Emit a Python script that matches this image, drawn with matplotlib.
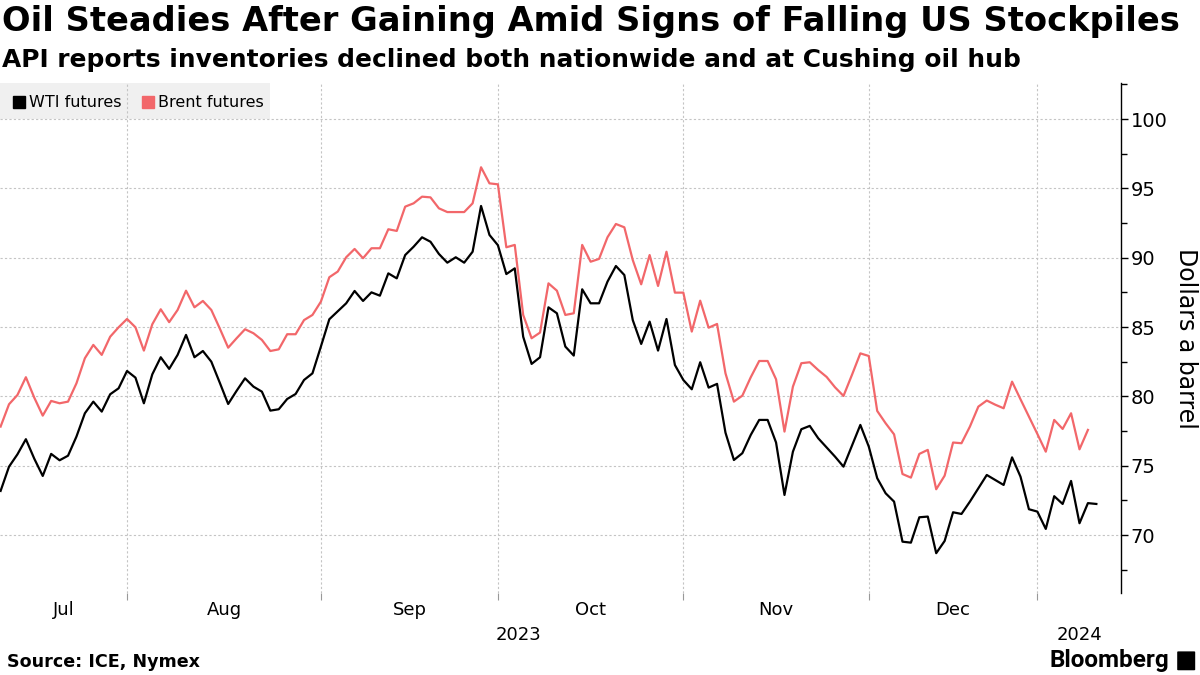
import numpy as np
import pandas as pd
import matplotlib
matplotlib.use("Agg")
import matplotlib.pyplot as plt
from matplotlib.lines import Line2D
from matplotlib.patches import Rectangle, FancyBboxPatch
import matplotlib.transforms as mtransforms

# trading days (union of ICE and Nymex sessions)
dates = pd.bdate_range("2023-07-10", "2024-01-10")
dates = dates[~dates.isin(pd.to_datetime(["2023-12-25", "2024-01-01"]))]

nan = np.nan
wti = [73.18, 74.93, 75.82, 76.91, 75.5, 74.26, 75.85, 75.39, 75.72, 77.1,
       78.78, 79.62, 78.9, 80.15, 80.58, 81.83, 81.35, 79.5, 81.59, 82.82,
       81.98, 82.99, 84.43, 82.82, 83.27, 82.5, 80.99, 79.45, 80.4, 81.3,
       80.7, 80.34, 78.97, 79.07, 79.81, 80.17, 81.18, 81.66, 83.59, 85.56,
       nan, 86.71, 87.6, 86.88, 87.5, 87.26, 88.87, 88.51, 90.19, 90.79,
       91.47, 91.15, 90.27, 89.64, 90.03, 89.64, 90.43, 93.73, 91.64, 90.9,
       88.82, 89.23, 84.3, 82.34, 82.82, 86.42, 85.99, 83.59, 82.94, 87.72,
       86.71, 86.71, 88.27, 89.4, 88.75, 85.5, 83.78, 85.39, 83.3, 85.58,
       82.26, 81.18, 80.51, 82.46, 80.63, 80.9, 77.38, 75.41, 75.9, 77.22,
       78.3, 78.3, 76.67, 72.89, 76.01, 77.63, 77.87, 76.98, nan, 75.65,
       74.93, 76.43, 77.94, 76.38, 74.1, 73.01, 72.41, 69.52, 69.45, 71.28,
       71.33, 68.69, 69.57, 71.64, 71.52, 72.41, 73.37, 74.33, 73.97, 73.61,
       75.6, 74.21, 71.86, 71.69, 70.44, 72.8, 72.24, 73.9, 70.85, 72.3,
       72.24]
brent = [77.82, 79.43, 80.1, 81.38, 79.9, 78.61, 79.67, 79.5, 79.62, 80.94,
         82.75, 83.71, 82.99, 84.3, 84.98, 85.58, 84.98, 83.3, 85.2, 86.28,
         85.35, 86.23, 87.62, 86.42, 86.88, 86.23, 84.9, 83.51, 84.19, 84.84,
         84.55, 84.07, 83.27, 83.39, 84.48, 84.48, 85.5, 85.87, 86.83, 88.59,
         89.0, 90.03, 90.63, 89.96, 90.68, 90.68, 92.05, 91.93, 93.68, 93.92,
         94.4, 94.35, 93.56, 93.29, 93.29, 93.29, 93.92, 96.52, 95.36, 95.29,
         90.75, 90.92, 85.87, 84.19, 84.6, 88.15, 87.62, 85.87, 85.99, 90.92,
         89.71, 89.91, 91.47, 92.43, 92.19, 89.83, 88.08, 90.19, 87.96, 90.43,
         87.48, 87.48, 84.67, 86.9, 84.95, 85.22, 81.66, 79.62, 80.05, 81.38,
         82.55, 82.55, 81.23, 77.46, 80.7, 82.39, 82.46, 81.9, 81.4, 80.65,
         80.03, 81.54, 83.1, 82.91, 78.95, 78.06, 77.26, 74.4, 74.14, 75.85,
         76.14, 73.3, 74.28, 76.67, 76.62, 77.82, 79.26, 79.7, 79.4, 79.14,
         81.06, 79.79, 78.54, 77.29, 76.01, 78.3, 77.65, 78.78, 76.18, 77.58,
         nan]

series = pd.DataFrame({"WTI futures": wti, "Brent futures": brent}, index=dates)
colors = {"WTI futures": "#000000", "Brent futures": "#f2676a"}

fig = plt.figure(figsize=(12, 6.75), dpi=100)
ax = fig.add_axes([0, 0.1215, 0.934, 0.7556])

x = np.arange(len(series))
for name in ["Brent futures", "WTI futures"]:
    s = series[name].to_numpy()
    ok = ~np.isnan(s)
    ax.plot(x[ok], s[ok], color=colors[name], lw=1.6, zorder=3)

ax.set_xlim(-0.07, 132.9)
ax.set_ylim(65.82, 102.6)

# month boundaries = last trading day of each month
months = series.index.to_period("M")
bounds = [i for i in range(len(months) - 1) if months[i] != months[i + 1]]
grid_kw = dict(color="#c4c4c4", lw=0.8, ls=(0, (2, 2)), zorder=1)
for b in bounds:
    ax.axvline(b, **grid_kw)
for v in range(70, 101, 5):
    ax.axhline(v, **grid_kw)

ax.set_xticks(bounds)
ax.set_xticklabels([])
edges = [0] + bounds
mids = [(edges[k] + edges[k + 1]) / 2 for k in range(len(bounds))]
ax.set_xticks(mids, minor=True)
ax.set_xticklabels([d.strftime("%b") for d in [series.index[b] for b in bounds]],
                   minor=True)
ax.tick_params(axis="x", which="major", length=5, width=0.8, color="#999999")
ax.tick_params(axis="x", which="minor", length=0, pad=6, labelsize=13)

trans = mtransforms.blended_transform_factory(ax.transData, ax.transAxes)
ax.text(bounds[-1] / 2, -0.082, "2023", transform=trans, ha="center",
        va="center", fontsize=13)
ax.text((bounds[-1] + 132.9) / 2, -0.082, "2024", transform=trans,
        ha="center", va="center", fontsize=13)

ax.yaxis.tick_right()
ax.yaxis.set_label_position("right")
ax.set_yticks(range(70, 101, 5))
ax.set_yticks(np.arange(67.5, 103, 5), minor=True)
ax.tick_params(axis="y", which="major", length=5, width=1, labelsize=14, pad=2)
ax.tick_params(axis="y", which="minor", length=4, width=1)
ax.set_ylabel("Dollars a barrel", rotation=270, fontsize=17, labelpad=22)

for side in ["top", "left", "bottom"]:
    ax.spines[side].set_visible(False)
ax.spines["right"].set_linewidth(1)

# legend
ax.add_patch(Rectangle((0, 0.929), 0.241, 0.071, transform=ax.transAxes,
                       facecolor="#f0f0f0", edgecolor="none", zorder=0))
handles = [Line2D([], [], marker="s", ls="", color=colors[n], markersize=9,
                  label=n) for n in ["WTI futures", "Brent futures"]]
ax.legend(handles=handles, ncol=2, loc="upper left", bbox_to_anchor=(0, 0.998),
          borderaxespad=0.3, frameon=False, handletextpad=0.1,
          columnspacing=1.2, handlelength=1.0, fontsize=11.5)

fig.text(0.002, 0.968, "Oil Steadies After Gaining Amid Signs of Falling US Stockpiles",
         fontsize=24.2, fontweight="bold", family="DejaVu Sans", va="center")
fig.text(0.002, 0.911, "API reports inventories declined both nationwide and at Cushing oil hub",
         fontsize=17.9, fontweight="bold", family="DejaVu Sans", va="center")
fig.text(0.006, 0.019, "Source: ICE, Nymex", fontsize=12.6, fontweight="bold",
         family="DejaVu Sans", va="center")
fig.text(0.974, 0.021, "Bloomberg", fontsize=17.5, fontweight="bold",
         family="Roboto", va="center", ha="right")
fig.patches.append(FancyBboxPatch((0.982, 0.008), 0.013, 0.026,
                                  boxstyle="round,pad=0.001",
                                  transform=fig.transFigure,
                                  facecolor="black", edgecolor="none"))

fig.savefig("out.png", dpi=100)
